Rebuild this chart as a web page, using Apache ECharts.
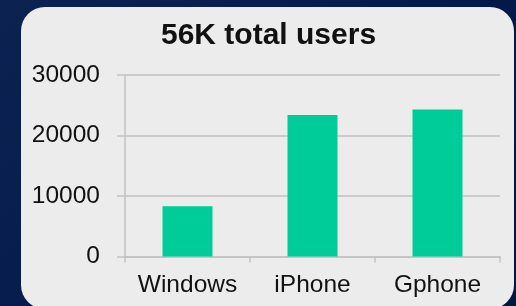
<!DOCTYPE html>
<html>
<head>
<meta charset="utf-8">
<script src="https://cdn.jsdelivr.net/npm/echarts@6/dist/echarts.min.js"></script>
<style>
  html, body { margin: 0; padding: 0; }
  body {
    width: 516px; height: 306px; overflow: hidden;
    background: linear-gradient(135deg, #0c2352 0%, #02194a 60%, #011640 100%);
  }
  #chart { width: 516px; height: 306px; }
</style>
</head>
<body>
<div id="chart"></div>
<script>
// data
const categories = ['Windows', 'iPhone', 'Gphone'];
const users = [8300, 23400, 24300];
const yTicks = [0, 10000, 20000, 30000];

const chart = echarts.init(document.getElementById('chart'));

const font = '"Liberation Sans", Arial, sans-serif';

const option = {
  backgroundColor: 'transparent',
  animation: false,
  graphic: [{
    type: 'rect',
    z: -10,
    shape: { x: 21, y: 7, width: 493, height: 302, r: 24 },
    style: { fill: '#ececec' }
  }],
  title: {
    text: '56K total users',
    left: 156,
    top: 16,
    textStyle: {
      fontFamily: font,
      fontWeight: 'bold',
      fontSize: 30,
      color: '#111'
    }
  },
  grid: {
    left: 125,
    top: 75,
    width: 375,
    bottom: 49.4
  },
  xAxis: {
    type: 'category',
    data: categories,
    axisLine: { lineStyle: { color: '#c2c2c2', width: 1.5 } },
    axisTick: { show: true, length: 6, lineStyle: { color: '#c2c2c2', width: 1.5 } },
    axisLabel: {
      interval: 0,
      hideOverlap: false,
      margin: 16,
      fontFamily: font,
      fontSize: 24.5,
      color: '#111'
    }
  },
  yAxis: {
    type: 'value',
    min: yTicks[0],
    max: yTicks[yTicks.length - 1],
    interval: yTicks[1] - yTicks[0],
    axisLine: { show: true, lineStyle: { color: '#c2c2c2', width: 1.5 } },
    axisTick: { show: true, length: 8, lineStyle: { color: '#c2c2c2', width: 1.5 } },
    splitLine: { lineStyle: { color: '#c2c2c2', width: 1.5 } },
    axisLabel: {
      margin: 25,
      fontFamily: font,
      fontSize: 24.5,
      color: '#111',
      formatter: (v) => String(v)
    }
  },
  series: [{
    type: 'bar',
    data: users,
    barWidth: 50,
    itemStyle: { color: '#00cc99' }
  }]
};

chart.setOption(option);
</script>
</body>
</html>
